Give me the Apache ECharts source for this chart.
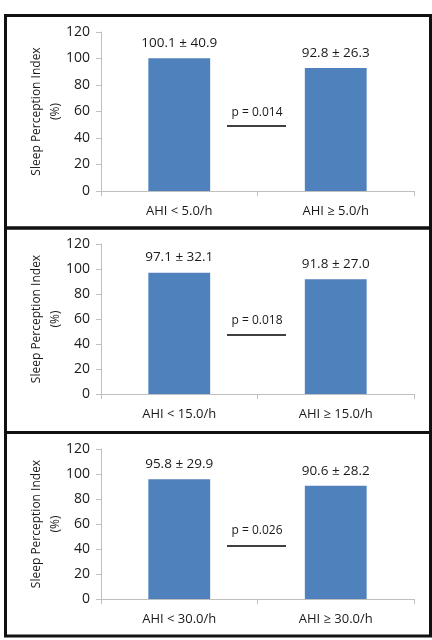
<!DOCTYPE html>
<html>
<head>
<meta charset="utf-8">
<script src="https://cdn.jsdelivr.net/npm/echarts@6/dist/echarts.min.js"></script>
<style>
  html, body { margin: 0; padding: 0; background: #fff; }
  #chart { width: 432px; height: 640px; }
</style>
</head>
<body>
<div id="chart"></div>
<script>
// data
var categorias = [
  ['AHI < 5.0/h', 'AHI \u2265 5.0/h'],
  ['AHI < 15.0/h', 'AHI \u2265 15.0/h'],
  ['AHI < 30.0/h', 'AHI \u2265 30.0/h']
]
var medias = [
  [100.1, 92.8],
  [97.1, 91.8],
  [95.8, 90.6]
]
var desvios = [
  [40.9, 26.3],
  [32.1, 27.0],
  [29.9, 28.2]
]
var pValores = ['p = 0.014', 'p = 0.018', 'p = 0.026']
var yTicks = [0, 20, 40, 60, 80, 100, 120]

// layout of the three panels
var paineis = [
  { top: 15.5, bottom: 228, gridTop: 32, gridHeight: 159, pY: 113, lineY: 126 },
  { top: 228, bottom: 432.5, gridTop: 244, gridHeight: 150, pY: 321, lineY: 335 },
  { top: 432.5, bottom: 636, gridTop: 449, gridHeight: 150, pY: 531, lineY: 546 }
]

var corEixo = '#bfbfbf'
var fonte = '"Open Sans", "Liberation Sans", sans-serif'

var chartDom = document.getElementById('chart')
var myChart = echarts.init(chartDom)

var grids = [], xAxes = [], yAxes = [], series = [], graficos = []

paineis.forEach(function (p, i) {
  grids.push({ left: 101, right: 18, top: p.gridTop, height: p.gridHeight, containLabel: false })

  xAxes.push({
    type: 'category',
    gridIndex: i,
    data: categorias[i],
    axisLine: { lineStyle: { color: corEixo, width: 1 } },
    axisTick: { show: true, length: 5, lineStyle: { color: corEixo } },
    axisLabel: { color: '#1a1a1a', fontSize: 13, fontFamily: fonte, margin: 14 }
  })

  yAxes.push({
    type: 'value',
    gridIndex: i,
    min: yTicks[0],
    max: yTicks[yTicks.length - 1],
    interval: 20,
    name: 'Sleep Perception Index\n(%)',
    nameLocation: 'middle',
    nameGap: 36,
    nameMoveOverlap: false,
    nameRotate: 90,
    nameTextStyle: { color: '#1a1a1a', fontSize: 12, fontFamily: fonte, lineHeight: 19 },
    axisLine: { show: true, lineStyle: { color: corEixo, width: 1 } },
    axisTick: { show: true, length: 5, lineStyle: { color: corEixo } },
    splitLine: { show: false },
    axisLabel: { color: '#1a1a1a', fontSize: 14, fontFamily: fonte, margin: 11 }
  })

  series.push({
    type: 'bar',
    xAxisIndex: i,
    yAxisIndex: i,
    barWidth: '39.5%',
    itemStyle: { color: '#4f81bd' },
    data: medias[i].map(function (v, j) {
      return { value: v, sd: desvios[i][j] }
    }),
    label: {
      show: true,
      position: 'top',
      distance: 8,
      color: '#1a1a1a',
      fontSize: 13.5,
      fontFamily: fonte,
      formatter: function (params) {
        return params.value.toFixed(1) + ' \u00b1 ' + params.data.sd.toFixed(1)
      }
    }
  })

  // moldura do painel
  graficos.push({
    type: 'rect',
    shape: { x: 5.5, y: p.top, width: 425, height: p.bottom - p.top },
    style: { fill: null, stroke: '#111', lineWidth: 3 },
    z: 10
  })

  // anotacao do p-valor
  graficos.push({
    type: 'text',
    x: 257,
    y: p.pY,
    style: {
      text: pValores[i],
      fill: '#1a1a1a',
      font: '12px ' + fonte,
      align: 'center',
      verticalAlign: 'middle'
    }
  })
  graficos.push({
    type: 'line',
    shape: { x1: 227, y1: p.lineY, x2: 286, y2: p.lineY },
    style: { stroke: '#404040', lineWidth: 2 }
  })
})

var option = {
  backgroundColor: '#fff',
  animation: false,
  grid: grids,
  xAxis: xAxes,
  yAxis: yAxes,
  series: series,
  graphic: graficos
}

option && myChart.setOption(option)
</script>
</body>
</html>
